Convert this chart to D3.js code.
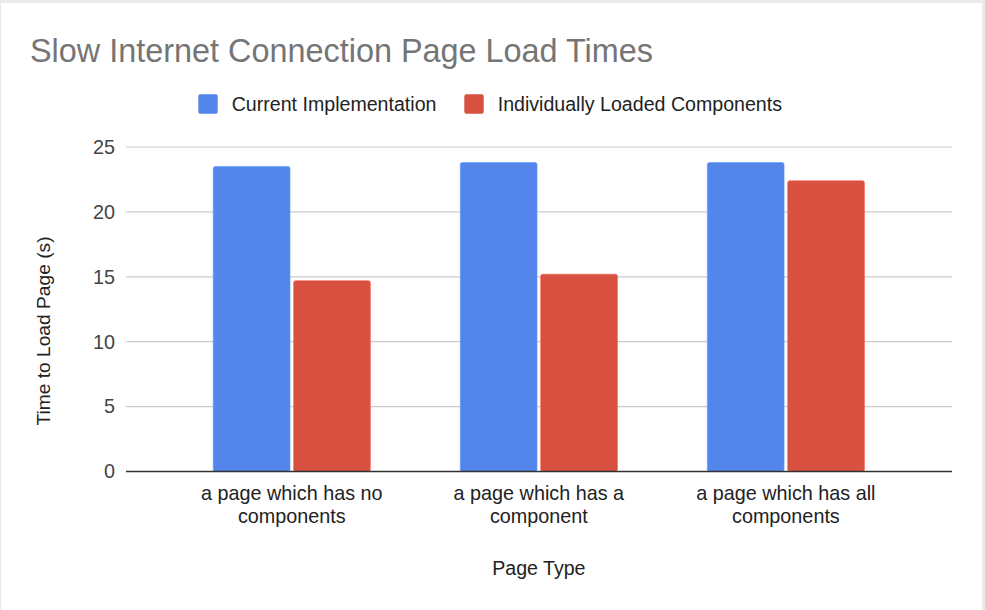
<!DOCTYPE html>
<html><head><meta charset="utf-8">
<script src="https://cdn.jsdelivr.net/npm/d3@7"></script>
<style>html,body{margin:0;padding:0;background:#ebebeb;}svg{display:block;}</style>
</head><body>
<script>
const categories = [["a page which has no","components"],["a page which has a","component"],["a page which has all","components"]];
const seriesNames = ["Current Implementation","Individually Loaded Components"];
const currentImpl = [23.5, 23.8, 23.8];
const individuallyLoaded = [14.7, 15.2, 22.4];
const yTicks = [0,5,10,15,20,25];
const colors = ["#5385EB","#D85140"];

const W=985,H=610;
const svg=d3.select("body").append("svg").attr("width",W).attr("height",H);
svg.append("rect").attr("x",1).attr("y",3).attr("width",981).attr("height",H-3).attr("fill","#fff");
const font="'Liberation Sans', Arial, sans-serif";

svg.append("text").attr("x",30).attr("y",62).attr("font-family",font).attr("font-size",32.4)
  .attr("fill","#757575").text("Slow Internet Connection Page Load Times");

// legend
const legX=[198.3,464.3];
seriesNames.forEach((n,i)=>{
  svg.append("rect").attr("x",legX[i]).attr("y",94.3).attr("width",19.4).attr("height",19.4).attr("rx",2).attr("fill",colors[i]);
  svg.append("text").attr("x",legX[i]+33.4).attr("y",111).attr("font-family",font).attr("font-size",19.6).attr("fill","#222").text(n);
});

const y=d3.scaleLinear().domain([0,25]).range([471.5,147]);
const x0=d3.scaleBand().domain(d3.range(categories.length)).range([168.3,909.4]).paddingInner(0.364).paddingOuter(0.182);
const x1=d3.scaleBand().domain(d3.range(seriesNames.length)).range([0,x0.bandwidth()]).paddingInner(0.045);

// gridlines
const grid=svg.append("g");
yTicks.filter(t=>t>0).forEach(t=>{
  grid.append("line").attr("x1",126).attr("x2",952).attr("y1",y(t)).attr("y2",y(t)).attr("stroke","#ccc").attr("stroke-width",1.2);
});
// y axis labels via d3 axis
const yAxis=svg.append("g").attr("transform","translate(126,0)")
  .call(d3.axisLeft(y).tickValues(yTicks).tickSize(0).tickPadding(11));
yAxis.select(".domain").remove();
yAxis.selectAll("text").attr("font-family",font).attr("font-size",19.8).attr("fill","#444");

const data=[currentImpl,individuallyLoaded];
categories.forEach((c,ci)=>{
  data.forEach((s,si)=>{
    svg.append("rect").attr("x",x0(ci)+x1(si)).attr("width",x1.bandwidth())
      .attr("y",y(s[ci])).attr("height",y(0)-y(s[ci])).attr("rx",2)
      .attr("fill",colors[si]).attr("stroke",d3.color(colors[si]).brighter(0.4)).attr("stroke-width",0.6);
  });
});
// baseline
svg.append("line").attr("x1",126).attr("x2",952).attr("y1",y(0)).attr("y2",y(0)).attr("stroke","#333").attr("stroke-width",1.3);

// x labels
const xAxis=svg.append("g").attr("transform","translate(0,471.5)")
  .call(d3.axisBottom(x0).tickSize(0).tickFormat(""));
xAxis.select(".domain").remove();
categories.forEach((c,ci)=>{
  const t=svg.append("text").attr("x",x0(ci)+x0.bandwidth()/2).attr("y",500).attr("text-anchor","middle")
    .attr("font-family",font).attr("font-size",19.8).attr("fill","#222");
  c.forEach((l,li)=>t.append("tspan").attr("x",x0(ci)+x0.bandwidth()/2).attr("dy",li?22.5:0).text(l));
});
svg.append("text").attr("x",x0(1)+x0.bandwidth()/2).attr("y",575).attr("text-anchor","middle")
  .attr("font-family",font).attr("font-size",19.6).attr("fill","#222").text("Page Type");
svg.append("text").attr("transform","translate(50,331) rotate(-90)").attr("text-anchor","middle")
  .attr("font-family",font).attr("font-size",19.2).attr("fill","#222").text("Time to Load Page (s)");
</script>
</body></html>
